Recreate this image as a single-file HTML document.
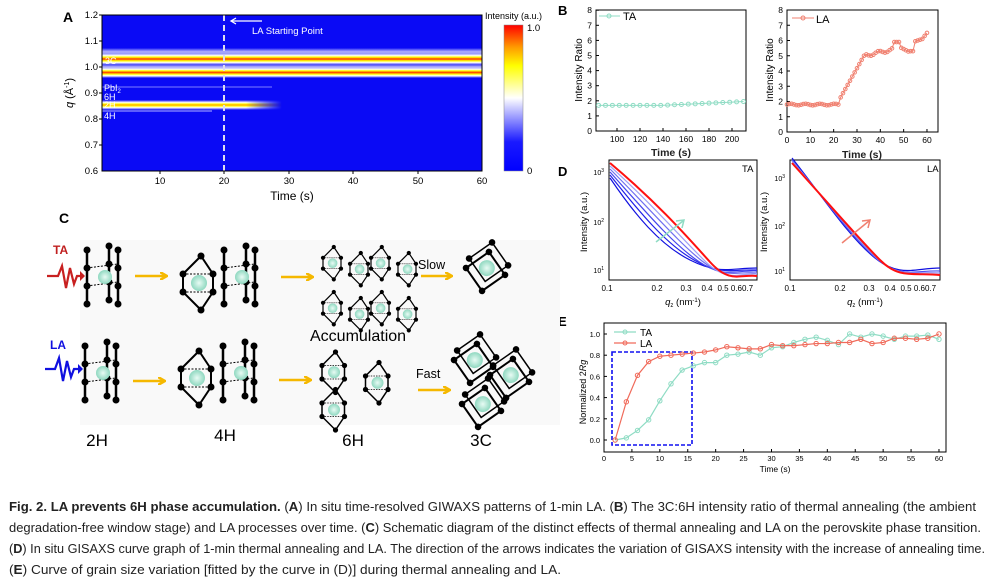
<!DOCTYPE html>
<html><head><meta charset="utf-8"><style>
html,body{margin:0;padding:0;background:#fff;}
svg{display:block;font-family:"Liberation Sans",Arial,sans-serif;}
</style></head><body>
<svg id="s" width="989" height="582" viewBox="0 0 989 582" xmlns="http://www.w3.org/2000/svg">
<defs>
<linearGradient id="cb" x1="0" y1="1" x2="0" y2="0">
<stop offset="0" stop-color="#0000ff"/><stop offset="0.2" stop-color="#1a1aff"/><stop offset="0.5" stop-color="#ffffff"/><stop offset="0.72" stop-color="#ffff00"/><stop offset="0.85" stop-color="#ff9900"/><stop offset="1" stop-color="#ff0000"/>
</linearGradient>
<linearGradient id="bandA" x1="0" y1="0" x2="0" y2="1">
<stop offset="0" stop-color="#fff" stop-opacity="0"/><stop offset="0.2" stop-color="#fff"/><stop offset="0.35" stop-color="#ffff00"/><stop offset="0.5" stop-color="#ff3000"/><stop offset="0.65" stop-color="#ffff00"/><stop offset="0.8" stop-color="#fff"/><stop offset="1" stop-color="#fff" stop-opacity="0"/>
</linearGradient>
<linearGradient id="bandB" x1="0" y1="0" x2="0" y2="1">
<stop offset="0" stop-color="#fff" stop-opacity="0"/><stop offset="0.25" stop-color="#fff"/><stop offset="0.4" stop-color="#ffff00"/><stop offset="0.5" stop-color="#ff9900"/><stop offset="0.6" stop-color="#ffff00"/><stop offset="0.75" stop-color="#fff"/><stop offset="1" stop-color="#fff" stop-opacity="0"/>
</linearGradient>
<linearGradient id="halo" x1="0" y1="0" x2="0" y2="1">
<stop offset="0" stop-color="#fff" stop-opacity="0"/><stop offset="0.5" stop-color="#c8c8ff" stop-opacity="0.9"/><stop offset="1" stop-color="#fff" stop-opacity="0"/>
</linearGradient>
<linearGradient id="fadeR" x1="0" y1="0" x2="1" y2="0">
<stop offset="0" stop-color="#fff" stop-opacity="1"/><stop offset="0.8" stop-color="#fff" stop-opacity="1"/><stop offset="1" stop-color="#fff" stop-opacity="0"/>
</linearGradient>
<mask id="m2h"><rect x="102" y="95" width="180" height="20" fill="url(#fadeR)"/></mask>
<radialGradient id="ball"><stop offset="0" stop-color="#e8fbf4"/><stop offset="1" stop-color="#8fd8c0"/></radialGradient>
<symbol id="col" overflow="visible"><line x1="0" y1="0" x2="0" y2="54" stroke="#000" stroke-width="2.5"/><circle cx="0" cy="0" r="3.5"/><circle cx="0" cy="18" r="3.5"/><circle cx="0" cy="36" r="3.5"/><circle cx="0" cy="54" r="3.5"/></symbol>
<symbol id="h2" overflow="visible">
<use href="#col" x="0" y="0"/><use href="#col" x="22" y="-4"/><use href="#col" x="31" y="0"/>
<line x1="0" y1="18" x2="31" y2="14" stroke="#000" stroke-dasharray="2,1.5"/><line x1="0" y1="36" x2="31" y2="32" stroke="#000" stroke-dasharray="2,1.5"/>
<circle cx="18" cy="27" r="7" fill="url(#ball)"/></symbol>
<symbol id="oct" overflow="visible">
<polygon points="0,18 18,0 30,18 30,36 18,54 0,36" fill="none" stroke="#000" stroke-width="2"/>
<line x1="0" y1="18" x2="30" y2="18" stroke="#000" stroke-dasharray="2,1.5"/><line x1="0" y1="36" x2="30" y2="36" stroke="#000" stroke-dasharray="2,1.5"/>
<circle cx="16" cy="27" r="8" fill="url(#ball)"/>
<g fill="#000"><circle cx="0" cy="18" r="3.5"/><circle cx="18" cy="0" r="3.5"/><circle cx="30" cy="18" r="3.5"/><circle cx="30" cy="36" r="3.5"/><circle cx="18" cy="54" r="3.5"/><circle cx="0" cy="36" r="3.5"/></g></symbol>
<symbol id="cube" overflow="visible">
<g transform="rotate(-35)"><rect x="0" y="0" width="28" height="28" fill="none" stroke="#000" stroke-width="2"/><rect x="8" y="-6" width="28" height="28" fill="none" stroke="#000" stroke-width="1.5"/>
<circle cx="17" cy="12" r="8" fill="url(#ball)"/>
<g fill="#000"><circle cx="0" cy="0" r="3.3"/><circle cx="28" cy="0" r="3.3"/><circle cx="0" cy="28" r="3.3"/><circle cx="28" cy="28" r="3.3"/><circle cx="36" cy="-6" r="3.3"/><circle cx="36" cy="22" r="3.3"/><circle cx="8" cy="-6" r="3.3"/></g></g></symbol>
<marker id="ah" markerWidth="8" markerHeight="8" refX="6" refY="4" orient="auto" markerUnits="userSpaceOnUse"><path d="M0,0 L7,4 L0,8" fill="none" stroke="#f5b800" stroke-width="2.5"/></marker>
</defs>

<!-- PANEL A -->
<text x="63" y="22" font-size="14" font-weight="bold">A</text>
<rect x="102" y="15" width="380" height="156" fill="#0a0af5"/>
<rect x="102" y="48" width="380" height="8" fill="url(#halo)"/>
<rect x="102" y="64" width="380" height="6" fill="url(#halo)"/>
<rect x="102" y="53" width="380" height="12" fill="url(#bandA)"/>
<rect x="102" y="67" width="380" height="11" fill="url(#bandA)"/>
<rect x="102" y="86" width="170" height="2" fill="#6a6aff" opacity="0.6"/>
<rect x="102" y="100" width="180" height="10" fill="url(#bandB)" mask="url(#m2h)"/>
<rect x="102" y="110" width="110" height="2" fill="#8080ff" opacity="0.7"/>
<line x1="224" y1="15" x2="224" y2="171" stroke="#dde" stroke-width="2" stroke-dasharray="6,4"/>
<line x1="232" y1="21" x2="262" y2="21" stroke="#fff" stroke-width="1.3"/><path d="M236,18 L231,21 L236,24" fill="none" stroke="#fff" stroke-width="1.3"/>
<text x="252" y="34" font-size="9.5" fill="#fff">LA Starting Point</text>
<g font-size="9" fill="#fff"><text x="105" y="64">3C</text><text x="104" y="91">PbI<tspan font-size="6" dy="2">2</tspan></text><text x="104" y="100">6H</text><text x="104" y="108">2H</text><text x="104" y="119">4H</text></g>
<rect x="102" y="15" width="380" height="156" fill="none" stroke="#000" stroke-width="1"/>
<g font-size="9.5" text-anchor="end">
<text x="98" y="18">1.2</text><text x="98" y="44">1.1</text><text x="98" y="70">1.0</text><text x="98" y="96">0.9</text><text x="98" y="122">0.8</text><text x="98" y="148">0.7</text><text x="98" y="174">0.6</text></g>
<g stroke="#000"><line x1="102" y1="15" x2="99" y2="15"/><line x1="102" y1="41" x2="99" y2="41"/><line x1="102" y1="67" x2="99" y2="67"/><line x1="102" y1="93" x2="99" y2="93"/><line x1="102" y1="119" x2="99" y2="119"/><line x1="102" y1="145" x2="99" y2="145"/>
<line x1="160" y1="171" x2="160" y2="174"/><line x1="224" y1="171" x2="224" y2="174"/><line x1="289" y1="171" x2="289" y2="174"/><line x1="353" y1="171" x2="353" y2="174"/><line x1="418" y1="171" x2="418" y2="174"/></g>
<g font-size="9.5" text-anchor="middle"><text x="160" y="184">10</text><text x="224" y="184">20</text><text x="289" y="184">30</text><text x="353" y="184">40</text><text x="418" y="184">50</text><text x="482" y="184">60</text></g>
<text x="292" y="200" font-size="12" text-anchor="middle">Time (s)</text>
<text transform="translate(73,93) rotate(-90)" font-size="11" text-anchor="middle"><tspan font-style="italic">q</tspan> (Å<tspan font-size="7" dy="-4">-1</tspan><tspan dy="4">)</tspan></text>
<rect x="504" y="25" width="19" height="146" fill="url(#cb)" stroke="#888" stroke-width="0.5"/>
<text x="485" y="19" font-size="9">Intensity (a.u.)</text>
<text x="527" y="31" font-size="9.5">1.0</text><text x="527" y="174" font-size="9.5">0</text>

<!-- PANEL B -->
<text x="558" y="15" font-size="13" font-weight="bold">B</text>
<rect x="596" y="10" width="150" height="121" fill="none" stroke="#000"/>
<rect x="787" y="10" width="151" height="122" fill="none" stroke="#000"/>
<g id="bax" font-size="8.5"></g>
<polyline id="ta" fill="none" stroke="#8fdcc4" stroke-width="1"/>
<g id="tapts" fill="none" stroke="#8fdcc4"></g>
<polyline id="la" fill="none" stroke="#f08070" stroke-width="1"/>
<g id="lapts" fill="none" stroke="#f08070"></g>
<line x1="599" y1="16" x2="620" y2="16" stroke="#8fdcc4"/><circle cx="609" cy="16" r="2" fill="none" stroke="#8fdcc4"/><text x="623" y="20" font-size="11">TA</text>
<line x1="792" y1="18" x2="814" y2="18" stroke="#f08070"/><circle cx="803" cy="18" r="2" fill="none" stroke="#f08070"/><text x="816" y="23" font-size="11">LA</text>
<text x="671" y="156" font-size="10.5" font-weight="bold" text-anchor="middle" fill="#222">Time (s)</text>
<text x="862" y="158" font-size="10.5" font-weight="bold" text-anchor="middle" fill="#222">Time (s)</text>
<text transform="translate(582,70) rotate(-90)" font-size="10" text-anchor="middle">Intensity Ratio</text>
<text transform="translate(773,70) rotate(-90)" font-size="10" text-anchor="middle">Intensity Ratio</text>

<!-- PANEL D -->
<text x="558" y="176" font-size="13" font-weight="bold">D</text>
<rect x="609" y="160" width="148" height="120" fill="none" stroke="#000"/>
<rect x="790" y="160" width="150" height="120" fill="none" stroke="#000"/>
<g fill="none" stroke-width="1.2">
<path d="M610,178 C635,215 660,245 690,260 S730,268 757,268" stroke="#1010e0"/>
<path d="M610,175 C640,213 666,244 694,260 S732,269 757,270" stroke="#2020e8"/>
<path d="M610,172 C645,211 672,243 698,261 S734,270 757,271" stroke="#4545ee"/>
<path d="M610,169 C650,209 678,242 702,261 S736,271 757,273" stroke="#7070f0"/>
<path d="M610,166 C655,207 684,241 706,262 S738,273 757,274" stroke="#a0a0f5"/>
<path d="M610,163 C660,205 690,240 710,262 S740,274 757,276" stroke="#ff1010" stroke-width="2"/>
<path d="M792,158 C825,200 850,238 875,258 S915,268 940,268" stroke="#1010e0"/>
<path d="M792,160 C827,202 853,239 877,259 S915,270 940,271" stroke="#5050ee"/>
<path d="M792,161 C828,203 856,239 878,259 S915,271 940,273" stroke="#9090f5"/>
<path d="M792,163 C830,205 860,240 880,260 S915,272 940,275" stroke="#ff1010" stroke-width="2"/>
</g>
<line x1="656" y1="242" x2="683" y2="221" stroke="#8fdcc4" stroke-width="1.5"/><path d="M676,221 L684,220 L682,228" fill="none" stroke="#8fdcc4" stroke-width="1.5"/>
<line x1="842" y1="243" x2="869" y2="221" stroke="#f08070" stroke-width="1.5"/><path d="M862,221 L870,220 L868,228" fill="none" stroke="#f08070" stroke-width="1.5"/>
<text x="742" y="172" font-size="9.5">TA</text><text x="927" y="172" font-size="9.5">LA</text>
<g font-size="7" text-anchor="end"><text x="604" y="175">10<tspan font-size="5" dy="-3">3</tspan></text><text x="604" y="225">10<tspan font-size="5" dy="-3">2</tspan></text><text x="604" y="273">10<tspan font-size="5" dy="-3">1</tspan></text>
<text x="785" y="181">10<tspan font-size="5" dy="-3">3</tspan></text><text x="785" y="229">10<tspan font-size="5" dy="-3">2</tspan></text><text x="785" y="274">10<tspan font-size="5" dy="-3">1</tspan></text></g>
<g font-size="8" text-anchor="middle"><text x="607" y="291">0.1</text><text x="657" y="291">0.2</text><text x="686" y="291">0.3</text><text x="707" y="291">0.4</text><text x="723" y="291">0.5</text><text x="742" y="291">0.60.7</text>
<text x="790" y="291">0.1</text><text x="840" y="291">0.2</text><text x="869" y="291">0.3</text><text x="890" y="291">0.4</text><text x="906" y="291">0.5</text><text x="925" y="291">0.60.7</text></g>
<text x="683" y="305" font-size="9.5" text-anchor="middle"><tspan font-style="italic">q</tspan><tspan font-size="6" dy="2">z</tspan><tspan dy="-2"> (nm</tspan><tspan font-size="6" dy="-3">-1</tspan><tspan dy="3">)</tspan></text>
<text x="865" y="305" font-size="9.5" text-anchor="middle"><tspan font-style="italic">q</tspan><tspan font-size="6" dy="2">z</tspan><tspan dy="-2"> (nm</tspan><tspan font-size="6" dy="-3">-1</tspan><tspan dy="3">)</tspan></text>
<text transform="translate(587,222) rotate(-90)" font-size="9.5" text-anchor="middle">Intensity (a.u.)</text>
<text transform="translate(767,222) rotate(-90)" font-size="9.5" text-anchor="middle">Intensity (a.u.)</text>

<!-- PANEL E -->
<text x="558" y="326" font-size="13" font-weight="bold">E</text>
<rect x="604" y="323" width="342" height="129" fill="none" stroke="#000"/>
<rect x="612" y="352" width="80" height="93" fill="none" stroke="#1010f0" stroke-width="1.6" stroke-dasharray="4,2"/>
<g id="eax" font-size="7.5"></g>
<polyline id="eta" fill="none" stroke="#8fdcc4" stroke-width="1.2"/><g id="etap" fill="none" stroke="#8fdcc4"></g>
<polyline id="ela" fill="none" stroke="#f06a5a" stroke-width="1.2"/><g id="elap" fill="none" stroke="#f06a5a"></g>
<line x1="614" y1="332" x2="636" y2="332" stroke="#8fdcc4" stroke-width="1.2"/><circle cx="625" cy="332" r="2" fill="none" stroke="#8fdcc4"/><text x="640" y="336" font-size="10">TA</text>
<line x1="614" y1="343" x2="636" y2="343" stroke="#f06a5a" stroke-width="1.2"/><circle cx="625" cy="343" r="2" fill="none" stroke="#f06a5a"/><text x="640" y="347" font-size="10">LA</text>
<text x="775" y="472" font-size="8.5" text-anchor="middle">Time (s)</text>
<text transform="translate(586,392) rotate(-90)" font-size="9" text-anchor="middle">Normalized 2<tspan font-style="italic">R</tspan><tspan font-style="italic">g</tspan></text>

<!-- PANEL C -->
<text x="59" y="223" font-size="14" font-weight="bold">C</text>
<rect x="80" y="240" width="480" height="185" fill="#f9f9f9"/>
<text x="53" y="254" font-size="12" font-weight="bold" fill="#c02020">TA</text>
<path d="M47,276 L58,276 L62,266 L66,288 L70,268 L74,284 L77,276 L84,276" fill="none" stroke="#c82020" stroke-width="2.2"/><path d="M80,271 L85,276 L80,281Z" fill="#c82020"/>
<text x="50" y="349" font-size="12" font-weight="bold" fill="#1010e0">LA</text>
<path d="M45,369 L55,369 L59,358 L63,381 L67,361 L71,377 L74,369 L82,369" fill="none" stroke="#1010e0" stroke-width="2.2"/><path d="M78,364 L83,369 L78,374Z" fill="#1010e0"/>
<use href="#h2" x="87" y="250"/><use href="#h2" x="85" y="346"/>
<use href="#oct" x="183" y="256"/><use href="#h2" x="224" y="250"/>
<use href="#oct" x="181" y="351"/><use href="#h2" x="223" y="346"/>
<g transform="translate(323,247) scale(0.6)"><use href="#oct" x="0" y="0"/><use href="#oct" x="45" y="10"/><use href="#oct" x="80" y="0"/><use href="#oct" x="125" y="10"/><use href="#oct" x="0" y="75"/><use href="#oct" x="45" y="85"/><use href="#oct" x="80" y="75"/><use href="#oct" x="125" y="85"/></g>
<g transform="translate(322,352) scale(0.75)"><use href="#oct" x="0" y="0"/><use href="#oct" x="0" y="50"/><use href="#oct" x="58" y="14"/></g>
<use href="#cube" x="466" y="268"/>
<use href="#cube" x="454" y="360"/><use href="#cube" x="490" y="375"/><use href="#cube" x="462" y="404"/>
<g stroke="#f5b800" stroke-width="2.5" marker-end="url(#ah)"><line x1="135" y1="276" x2="166" y2="276"/><line x1="281" y1="277" x2="312" y2="277"/><line x1="421" y1="276" x2="451" y2="276"/>
<line x1="133" y1="381" x2="164" y2="381"/><line x1="279" y1="380" x2="310" y2="380"/><line x1="418" y1="390" x2="449" y2="390"/></g>
<text x="418" y="269" font-size="12.5">Slow</text><text x="416" y="378" font-size="12.5">Fast</text>
<text x="310" y="341" font-size="16">Accumulation</text>
<g font-size="17" text-anchor="middle"><text x="97" y="446">2H</text><text x="225" y="441">4H</text><text x="353" y="446">6H</text><text x="481" y="446">3C</text></g>

<!-- CAPTION -->
<g font-family="'Liberation Sans Narrow','Liberation Sans',sans-serif" font-size="12.5" fill="#222">
<text x="9" y="511" textLength="967" lengthAdjust="spacingAndGlyphs"><tspan font-weight="bold">Fig. 2. LA prevents 6H phase accumulation.</tspan> (<tspan font-weight="bold">A</tspan>) In situ time-resolved GIWAXS patterns of 1-min LA. (<tspan font-weight="bold">B</tspan>) The 3C:6H intensity ratio of thermal annealing (the ambient</text>
<text x="9" y="532" textLength="972" lengthAdjust="spacingAndGlyphs">degradation-free window stage) and LA processes over time. (<tspan font-weight="bold">C</tspan>) Schematic diagram of the distinct effects of thermal annealing and LA on the perovskite phase transition.</text>
<text x="9" y="553" textLength="976" lengthAdjust="spacingAndGlyphs">(<tspan font-weight="bold">D</tspan>) In situ GISAXS curve graph of 1-min thermal annealing and LA. The direction of the arrows indicates the variation of GISAXS intensity with the increase of annealing time.</text>
<text x="9" y="574" textLength="552" lengthAdjust="spacingAndGlyphs">(<tspan font-weight="bold">E</tspan>) Curve of grain size variation [fitted by the curve in (D)] during thermal annealing and LA.</text>
</g>
</svg>
<script>
(function(){
var NS="http://www.w3.org/2000/svg";
function el(p,t,a,txt){var e=document.createElementNS(NS,t);for(var k in a)e.setAttribute(k,a[k]);if(txt!==undefined)e.textContent=txt;document.getElementById(p).appendChild(e);return e;}
function tick(g,x1,y1,x2,y2){var e=document.createElementNS(NS,'line');e.setAttribute('x1',x1);e.setAttribute('y1',y1);e.setAttribute('x2',x2);e.setAttribute('y2',y2);e.setAttribute('stroke','#000');document.getElementById(g).appendChild(e);}
for(var i=0;i<=8;i++){var y=131-i*15.1;el('bax','text',{x:592,y:y+3,'text-anchor':'end'},i);tick('bax',596,y,599,y);
 var y2=132-i*15.25;el('bax','text',{x:783,y:y2+3,'text-anchor':'end'},i);tick('bax',787,y2,790,y2);}
for(var t=100;t<=200;t+=20){var x=617+(t-100)*1.15;el('bax','text',{x:x,y:142,'text-anchor':'middle'},t);tick('bax',x,131,x,128);}
for(var t=0;t<=60;t+=10){var x=787+t*2.333;el('bax','text',{x:x,y:143,'text-anchor':'middle'},t);tick('bax',x,132,x,129);}
var pts=[];for(var t=84;t<=210;t+=6){var v=1.7+Math.max(0,(t-140))/70*0.25;var x=617+(t-100)*1.15,y=131-v*15.1;pts.push(x+','+y);el('tapts','circle',{cx:x,cy:y,r:2});}
document.getElementById('ta').setAttribute('points',pts.join(' '));
var la=[];for(var t=0;t<=60;t++){var v;
 if(t<=22)v=1.8+0.05*Math.sin(t);else if(t<=33)v=2+(t-22)/11*3;else if(t<=45)v=5+0.4*(t-33)/12+0.1*Math.sin(t);else if(t<=48)v=5.9;else if(t<=52)v=5.6-(t-48)*0.08;else if(t<=54)v=5.3;else if(t<=58)v=5.9+0.05*(t-54);else v=6.1+(t-58)*0.2;
 var x=787+t*2.333,y=132-v*15.25;la.push(x+','+y);el('lapts','circle',{cx:x,cy:y,r:1.8});}
document.getElementById('la').setAttribute('points',la.join(' '));
for(var t=0;t<=60;t+=5){var x=604+t*5.583;el('eax','text',{x:x,y:461,'text-anchor':'middle'},t);tick('eax',x,452,x,449);}
for(var v=0;v<=5;v++){var y=440-v*0.2*106;el('eax','text',{x:600,y:y+3,'text-anchor':'end'},(v*0.2).toFixed(1));tick('eax',604,y,607,y);}
var TA=[0,0.02,0.09,0.19,0.37,0.53,0.66,0.7,0.73,0.73,0.8,0.81,0.83,0.8,0.87,0.88,0.92,0.95,0.97,0.94,0.9,1.0,0.97,1.0,0.98,0.95,0.98,0.98,0.99,0.95];
var LA=[0,0.36,0.61,0.74,0.79,0.8,0.81,0.82,0.83,0.85,0.88,0.87,0.86,0.86,0.9,0.89,0.89,0.9,0.91,0.91,0.92,0.92,0.95,0.91,0.92,0.96,0.96,0.95,0.96,1.0];
function ser(d,pl,pg){var p=[];for(var i=0;i<d.length;i++){var x=604+(2+2*i)*5.583,y=440-d[i]*106;p.push(x+','+y);el(pg,'circle',{cx:x,cy:y,r:2.2});}document.getElementById(pl).setAttribute('points',p.join(' '));}
ser(TA,'eta','etap');ser(LA,'ela','elap');
})();
</script>
</body></html>
